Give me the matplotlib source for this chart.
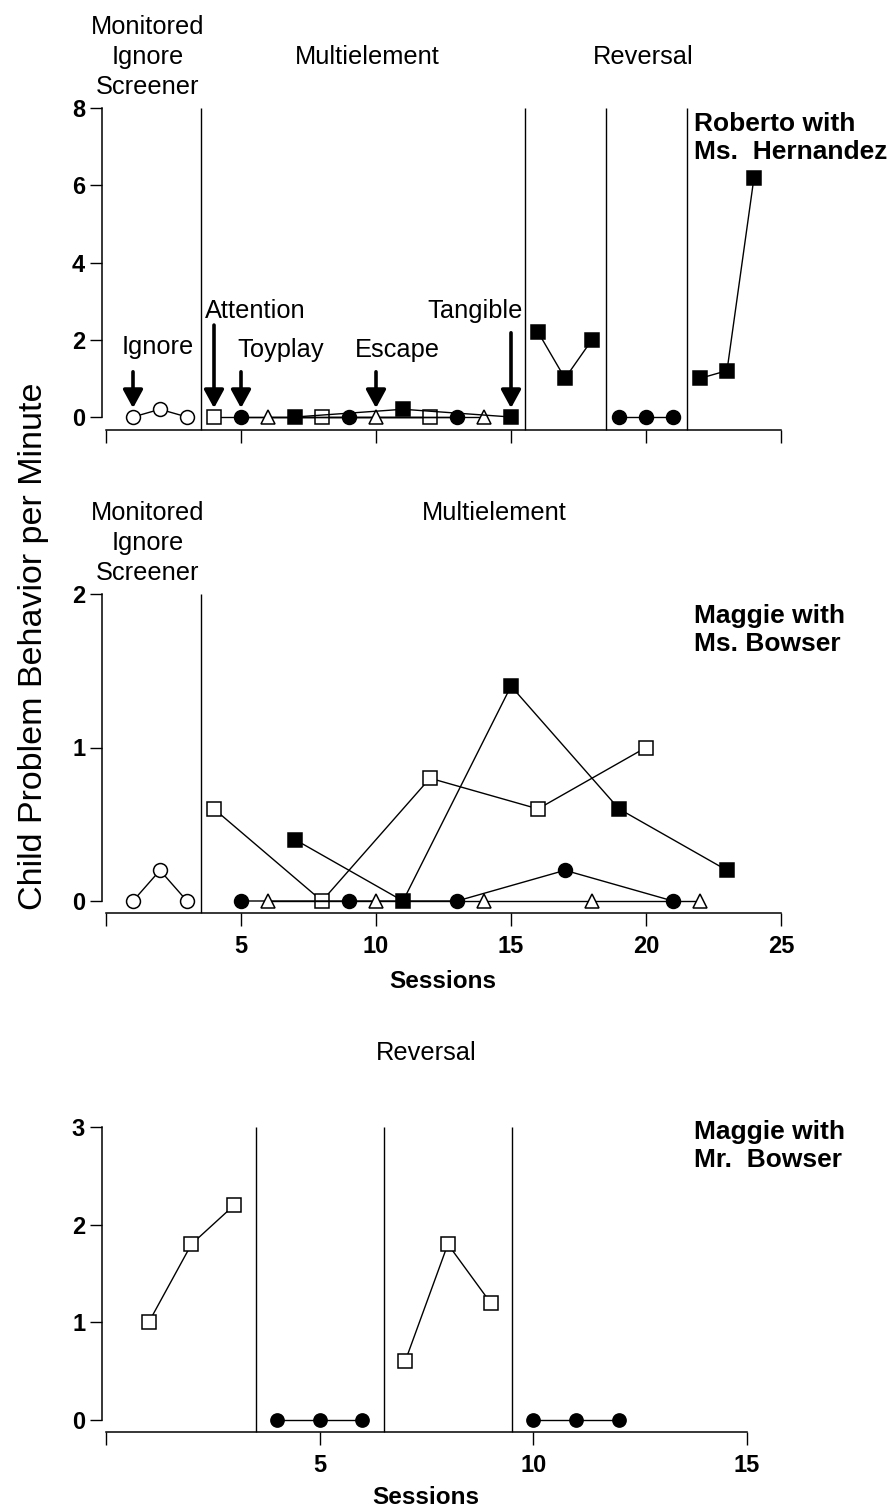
import matplotlib
matplotlib.use('Agg')
import matplotlib.pyplot as plt

plt.rcParams['font.family'] = ['Liberation Sans', 'DejaVu Sans']

# ---- Roberto with Ms. Hernandez ----
r_ignore_x = [1, 2, 3];        r_ignore_y = [0, 0.2, 0]
r_att_x = [4, 8, 12];          r_att_y = [0, 0, 0]
r_toy_x = [5, 9, 13];          r_toy_y = [0, 0, 0]
r_esc_x = [6, 10, 14];         r_esc_y = [0, 0, 0]
r_tan_x = [7, 11, 15];         r_tan_y = [0, 0.2, 0]
r_rev1_x = [16, 17, 18];       r_rev1_y = [2.2, 1.0, 2.0]
r_rev2_x = [19, 20, 21];       r_rev2_y = [0, 0, 0]
r_rev3_x = [22, 23, 24];       r_rev3_y = [1.0, 1.2, 6.2]
r_phases = [3.5, 15.5, 18.5, 21.5]

# ---- Maggie with Ms. Bowser ----
m_ignore_x = [1, 2, 3];            m_ignore_y = [0, 0.2, 0]
m_att_x = [4, 8, 12, 16, 20];      m_att_y = [0.6, 0, 0.8, 0.6, 1.0]
m_toy_x = [5, 9, 13, 17, 21];      m_toy_y = [0, 0, 0, 0.2, 0]
m_esc_x = [6, 10, 14, 18, 22];     m_esc_y = [0, 0, 0, 0, 0]
m_tan_x = [7, 11, 15, 19, 23];     m_tan_y = [0.4, 0, 1.4, 0.6, 0.2]
m_phases = [3.5]

# ---- Maggie with Mr. Bowser ----
b_att1_x = [1, 2, 3];     b_att1_y = [1.0, 1.8, 2.2]
b_toy1_x = [4, 5, 6];     b_toy1_y = [0, 0, 0]
b_att2_x = [7, 8, 9];     b_att2_y = [0.6, 1.8, 1.2]
b_toy2_x = [10, 11, 12];  b_toy2_y = [0, 0, 0]
b_phases = [3.5, 6.5, 9.5]

# arrows in panel 1: (session, tail, tip)
arrows = [(1, 1.17, 0.23), (4, 2.38, 0.23), (5, 1.17, 0.23), (10, 1.17, 0.23), (15, 2.18, 0.23)]

W, H = 896, 1512
DPI = 100
fig = plt.figure(figsize=(W / DPI, H / DPI), dpi=DPI)


def fx(x):
    return x / W


def fy(y):
    return 1 - y / H


def make_ax(x0, x1, y0, y1):
    return fig.add_axes([fx(x0), fy(y1), (x1 - x0) / W, (y1 - y0) / H])


open_circ = dict(marker='o', mfc='white')
open_sq = dict(marker='s', mfc='white')
fill_circ = dict(marker='o', mfc='black')
open_tri = dict(marker='^', mfc='white')
fill_sq = dict(marker='s', mfc='black')


def series(ax, x, y, style, ms=10):
    ax.plot(x, y, color='black', lw=1.0, mec='black', mew=1.1, ms=ms,
            clip_on=False, zorder=3, **style)


def style_ax(ax, xmax, ymax, yticks, xlabels, bottom_off):
    ax.set_xlim(0, xmax)
    ax.set_ylim(0, ymax)
    for s in ['top', 'right']:
        ax.spines[s].set_visible(False)
    ax.spines['left'].set_position(('outward', 3))
    ax.spines['bottom'].set_position(('outward', bottom_off))
    ax.spines['left'].set_linewidth(1.1)
    ax.spines['bottom'].set_linewidth(1.1)
    ax.spines['bottom'].set_bounds(0, xmax)
    ax.set_yticks(yticks)
    ax.set_yticklabels([str(t) for t in yticks], fontweight='bold', fontsize=17)
    xt = list(range(0, xmax + 1, 5))
    ax.set_xticks(xt)
    if xlabels:
        ax.set_xticklabels([''] + [str(t) for t in xt[1:]], fontweight='bold', fontsize=17)
    else:
        ax.set_xticklabels([])
    ax.tick_params(axis='y', length=8.5, width=1.0, pad=3.5)
    ax.tick_params(axis='x', length=9, width=1.0, pad=7)
    ax.patch.set_alpha(0)


def phase_lines(ax, xs, bottom_off, h_px):
    off = bottom_off * DPI / 72 / h_px
    ax.vlines(xs, -off, 1, transform=ax.get_xaxis_transform(),
              color='black', lw=1.0, clip_on=False)


FS = 18.3

# ---------------- panel 1 ----------------
ax1 = make_ax(106, 781, 108, 417)
style_ax(ax1, 25, 8, [0, 2, 4, 6, 8], False, 9.4)
phase_lines(ax1, r_phases, 9.4, 309)
series(ax1, r_ignore_x, r_ignore_y, open_circ)
series(ax1, r_att_x, r_att_y, open_sq)
series(ax1, r_toy_x, r_toy_y, fill_circ)
series(ax1, r_esc_x, r_esc_y, open_tri)
series(ax1, r_tan_x, r_tan_y, fill_sq)
series(ax1, r_rev1_x, r_rev1_y, fill_sq)
series(ax1, r_rev2_x, r_rev2_y, fill_circ)
series(ax1, r_rev3_x, r_rev3_y, fill_sq)
for x, tail, tip in arrows:
    ax1.annotate('', xy=(x, tip), xytext=(x, tail),
                 arrowprops=dict(arrowstyle='-|>,head_width=0.6,head_length=1.1',
                                 lw=2.6, color='black', shrinkA=0, shrinkB=0,
                                 mutation_scale=10))
ax1.text(1.9, 1.8, 'Ignore', ha='center', va='center', fontsize=FS)
ax1.text(3.65, 2.75, 'Attention', ha='left', va='center', fontsize=FS)
ax1.text(4.85, 1.74, 'Toyplay', ha='left', va='center', fontsize=FS)
ax1.text(9.2, 1.74, 'Escape', ha='left', va='center', fontsize=FS)
ax1.text(15.45, 2.75, 'Tangible', ha='right', va='center', fontsize=FS)

fig.text(fx(148), fy(57), 'Monitored\nIgnore\nScreener', ha='center', va='center',
         fontsize=FS, linespacing=1.3)
fig.text(fx(367), fy(57), 'Multielement', ha='center', va='center', fontsize=FS)
fig.text(fx(643), fy(57), 'Reversal', ha='center', va='center', fontsize=FS)
fig.text(fx(694), fy(138), 'Roberto with\nMs.  Hernandez', ha='left', va='center',
         fontsize=19, fontweight='bold', linespacing=1.25)

# ---------------- panel 2 ----------------
ax2 = make_ax(106, 781, 594, 901)
style_ax(ax2, 25, 2, [0, 1, 2], True, 8.6)
phase_lines(ax2, m_phases, 8.6, 307)
series(ax2, m_ignore_x, m_ignore_y, open_circ)
series(ax2, m_att_x, m_att_y, open_sq)
series(ax2, m_toy_x, m_toy_y, fill_circ)
series(ax2, m_esc_x, m_esc_y, open_tri)
series(ax2, m_tan_x, m_tan_y, fill_sq)

fig.text(fx(148), fy(543), 'Monitored\nIgnore\nScreener', ha='center', va='center',
         fontsize=FS, linespacing=1.3)
fig.text(fx(494), fy(513), 'Multielement', ha='center', va='center', fontsize=FS)
fig.text(fx(694), fy(630), 'Maggie with\nMs. Bowser', ha='left', va='center',
         fontsize=19, fontweight='bold', linespacing=1.25)
fig.text(fx(443), fy(981), 'Sessions', ha='center', va='center',
         fontsize=17.5, fontweight='bold')

# ---------------- panel 3 ----------------
ax3 = make_ax(106, 747, 1127, 1420)
style_ax(ax3, 15, 3, [0, 1, 2, 3], True, 8.6)
phase_lines(ax3, b_phases, 8.6, 293)
series(ax3, b_att1_x, b_att1_y, open_sq, ms=9.5)
series(ax3, b_toy1_x, b_toy1_y, fill_circ, ms=9.5)
series(ax3, b_att2_x, b_att2_y, open_sq, ms=9.5)
series(ax3, b_toy2_x, b_toy2_y, fill_circ, ms=9.5)

fig.text(fx(426), fy(1053), 'Reversal', ha='center', va='center', fontsize=FS)
fig.text(fx(694), fy(1146), 'Maggie with\nMr.  Bowser', ha='left', va='center',
         fontsize=19, fontweight='bold', linespacing=1.25)
fig.text(fx(426), fy(1498), 'Sessions', ha='center', va='center',
         fontsize=17.5, fontweight='bold')

fig.text(fx(34), fy(646), 'Child Problem Behavior per Minute', rotation=90,
         ha='center', va='center', fontsize=24.5)

fig.savefig('out.png', dpi=DPI)
